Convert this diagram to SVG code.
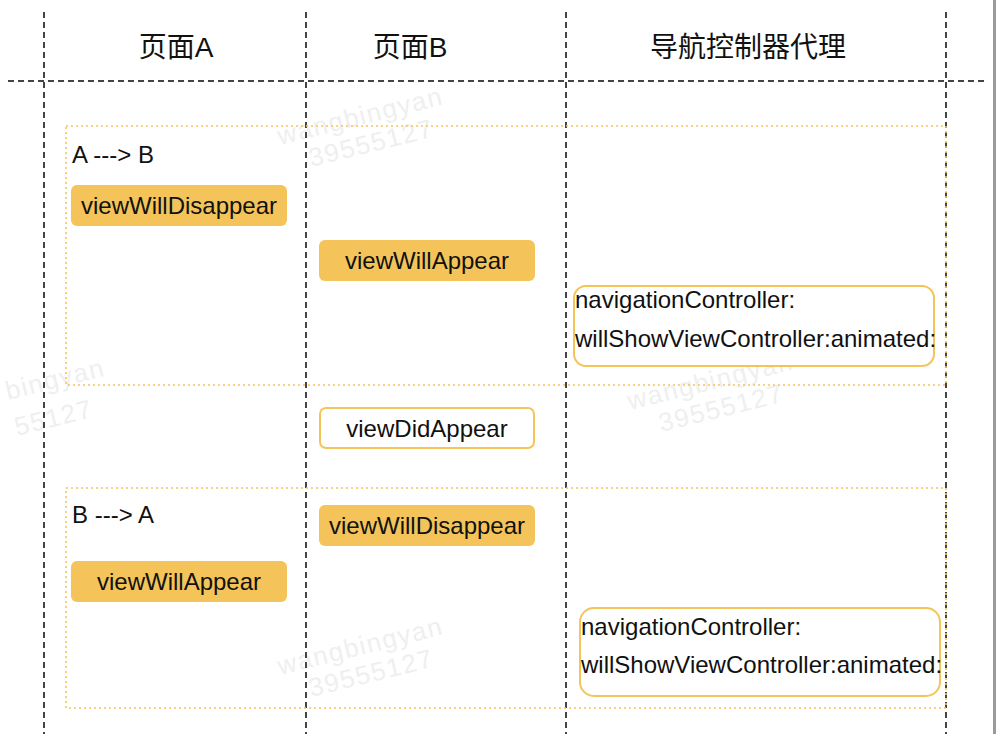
<svg xmlns="http://www.w3.org/2000/svg" width="996" height="734" viewBox="0 0 996 734">
<style>
.lane{stroke:#444;stroke-width:2;stroke-dasharray:6 4;fill:none}
.frame{stroke:#f4c45a;stroke-width:1.6;stroke-dasharray:2 3;fill:none}
.fill{fill:#f4c45a}
.out{fill:#fff;stroke:#f4c45a;stroke-width:2}
.t{font-family:"Liberation Sans",Arial,sans-serif;font-size:24px;fill:#111}
.h{font-family:"Liberation Sans","Noto Sans CJK SC",sans-serif;font-size:28px;fill:#111;text-anchor:middle}
.c{text-anchor:middle}
.wm{font-family:"Liberation Sans",Arial,sans-serif;font-size:26px;fill:#efefef;letter-spacing:1.5px}
</style>
<rect width="996" height="734" fill="#fff"/>
<g id="watermarks">
<g transform="rotate(-14 280 145)"><text class="wm" x="280" y="145">wangbingyan</text><text class="wm" x="305" y="174">39555127</text></g>
<g transform="rotate(-14 8 400)"><text class="wm" x="8" y="400">bingyan</text><text class="wm" x="8" y="437">55127</text></g>
<g transform="rotate(-14 630 410)"><text class="wm" x="630" y="410">wangbingyan</text><text class="wm" x="655" y="439">39555127</text></g>
<g transform="rotate(-14 280 675)"><text class="wm" x="280" y="675">wangbingyan</text><text class="wm" x="305" y="704">39555127</text></g>
</g>
<g id="lanes">
<line class="lane" x1="44" y1="12" x2="44" y2="734"/>
<line class="lane" x1="306" y1="12" x2="306" y2="734"/>
<line class="lane" x1="566" y1="12" x2="566" y2="734"/>
<line class="lane" x1="946" y1="12" x2="946" y2="734"/>
<line class="lane" x1="8" y1="81" x2="988" y2="81"/>
</g>
<rect x="993" y="0" width="3" height="734" fill="#9a9a9a"/>
<g id="headers">
<text class="h" x="176" y="57">页面A</text>
<text class="h" x="410" y="57">页面B</text>
<text class="h" x="748" y="57">导航控制器代理</text>
</g>
<g id="frame-push"><rect class="frame" x="66" y="126" width="880" height="259"/><text class="t" x="72" y="163">A ---&gt; B</text></g>
<g id="frame-pop"><rect class="frame" x="66" y="488" width="880" height="220"/><text class="t" x="72" y="523">B ---&gt; A</text></g>
<g id="a-viewWillDisappear"><rect class="fill" x="71" y="185" width="216" height="41" rx="6"/><text class="t c" x="179" y="214">viewWillDisappear</text></g>
<g id="b-viewWillAppear"><rect class="fill" x="319" y="240" width="216" height="41" rx="6"/><text class="t c" x="427" y="269">viewWillAppear</text></g>
<g id="nav-willShow-1"><rect class="out" x="574" y="286" width="360" height="80" rx="12"/><text class="t" x="575" y="308">navigationController:</text><text class="t" x="575" y="347">willShowViewController:animated:</text></g>
<g id="b-viewDidAppear"><rect class="out" x="320" y="408" width="214" height="40" rx="6"/><text class="t c" x="427" y="437">viewDidAppear</text></g>
<g id="b-viewWillDisappear"><rect class="fill" x="319" y="505" width="216" height="41" rx="6"/><text class="t c" x="427" y="534">viewWillDisappear</text></g>
<g id="a-viewWillAppear"><rect class="fill" x="71" y="561" width="216" height="41" rx="6"/><text class="t c" x="179" y="590">viewWillAppear</text></g>
<g id="nav-willShow-2"><rect class="out" x="580" y="608" width="360" height="88" rx="14"/><text class="t" x="581" y="635">navigationController:</text><text class="t" x="581" y="673">willShowViewController:animated:</text></g>
</svg>
